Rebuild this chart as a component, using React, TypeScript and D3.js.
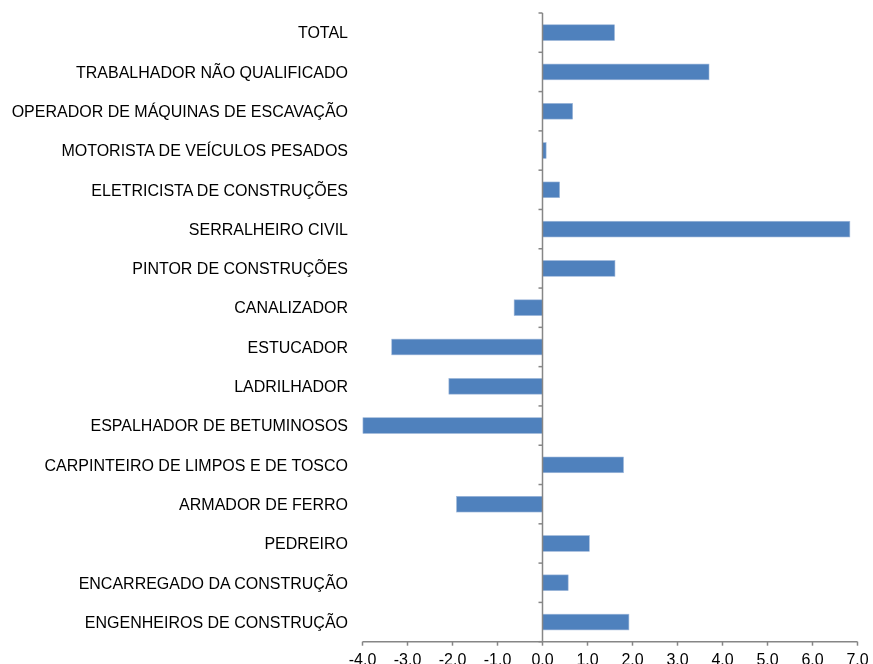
import React, { useEffect, useRef } from "react";
import * as d3 from "d3";

// categories, top to bottom as in the picture
const categories = [
  "TOTAL",
  "TRABALHADOR NÃO QUALIFICADO",
  "OPERADOR DE MÁQUINAS DE ESCAVAÇÃO",
  "MOTORISTA DE VEÍCULOS PESADOS",
  "ELETRICISTA DE CONSTRUÇÕES",
  "SERRALHEIRO CIVIL",
  "PINTOR DE CONSTRUÇÕES",
  "CANALIZADOR",
  "ESTUCADOR",
  "LADRILHADOR",
  "ESPALHADOR DE BETUMINOSOS",
  "CARPINTEIRO DE LIMPOS E DE TOSCO",
  "ARMADOR DE FERRO",
  "PEDREIRO",
  "ENCARREGADO DA CONSTRUÇÃO",
  "ENGENHEIROS DE CONSTRUÇÃO",
];

const values = [
  1.6, 3.7, 0.67, 0.08, 0.38, 6.83, 1.61, -0.63,
  -3.35, -2.08, -3.99, 1.8, -1.91, 1.04, 0.57, 1.92,
];

const xTicks = [-4, -3, -2, -1, 0, 1, 2, 3, 4, 5, 6, 7];

export default function App() {
  const ref = useRef<SVGSVGElement>(null);

  useEffect(() => {
    const width = 873;
    const height = 664;
    const left = 362.5;
    const right = 857.5;
    const top = 13;
    const bottom = 641.7;
    const font = "Arial, 'Liberation Sans', sans-serif";
    const axisColor = "#868686";

    const svg = d3.select(ref.current).attr("width", width).attr("height", height);
    svg.selectAll("*").remove();

    const x = d3.scaleLinear().domain([-4, 7]).range([left, right]);
    const y = d3.scaleBand<string>().domain(categories).range([top, bottom])
      .paddingInner(0.6).paddingOuter(0.3);
    const step = (bottom - top) / categories.length;

    // bars
    svg.append("g").selectAll("rect").data(values).enter()
      .append("rect")
      .attr("x", d => x(Math.min(0, d)))
      .attr("width", d => Math.abs(x(d) - x(0)))
      .attr("y", (d, i) => y(categories[i]) as number)
      .attr("height", y.bandwidth())
      .attr("fill", "#4F81BD")
      .attr("stroke", "#9fb8da")
      .attr("stroke-width", 0.6);

    // x axis
    const xa = svg.append("g");
    xa.append("line")
      .attr("x1", x(-4)).attr("x2", x(7))
      .attr("y1", bottom).attr("y2", bottom)
      .attr("stroke", axisColor).attr("stroke-width", 1.5);
    xa.selectAll("line.t").data(xTicks).enter()
      .append("line").attr("class", "t")
      .attr("x1", d => x(d)).attr("x2", d => x(d))
      .attr("y1", bottom).attr("y2", bottom + 4)
      .attr("stroke", axisColor).attr("stroke-width", 1.5);
    xa.selectAll("text").data(xTicks).enter()
      .append("text")
      .attr("x", d => x(d))
      .attr("y", 665)
      .attr("text-anchor", "middle")
      .style("font-family", font)
      .style("font-size", "16px")
      .attr("fill", "#000")
      .text(d => d.toFixed(1));

    // y axis at zero
    const ya = svg.append("g");
    ya.append("line")
      .attr("x1", x(0)).attr("x2", x(0))
      .attr("y1", top).attr("y2", bottom)
      .attr("stroke", axisColor).attr("stroke-width", 1.5);
    ya.selectAll("line.t").data(d3.range(categories.length + 1)).enter()
      .append("line").attr("class", "t")
      .attr("x1", x(0) - 4).attr("x2", x(0))
      .attr("y1", i => top + i * step).attr("y2", i => top + i * step)
      .attr("stroke", axisColor).attr("stroke-width", 1.5);

    // category labels
    svg.append("g").selectAll("text").data(categories).enter()
      .append("text")
      .attr("x", 348)
      .attr("y", d => (y(d) as number) + y.bandwidth() / 2)
      .attr("dy", "0.36em")
      .attr("text-anchor", "end")
      .style("font-family", font)
      .style("font-size", "16px")
      .attr("fill", "#000")
      .text(d => d);
  }, []);

  return (
    <div style={{ position: "fixed", left: 0, top: 0 }}>
      <svg ref={ref} style={{ display: "block" }}></svg>
    </div>
  );
}
